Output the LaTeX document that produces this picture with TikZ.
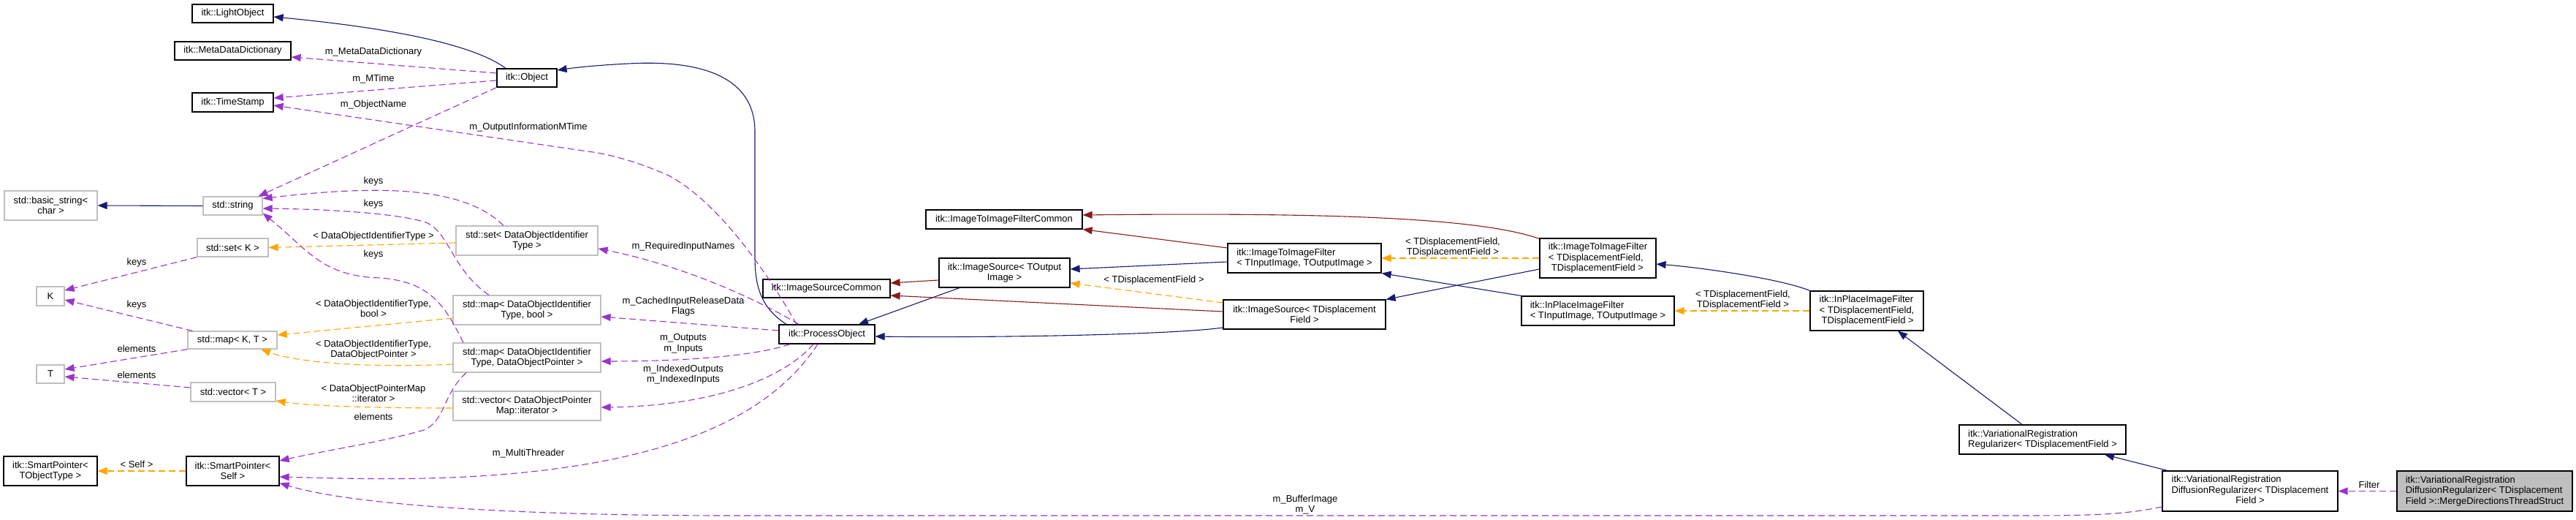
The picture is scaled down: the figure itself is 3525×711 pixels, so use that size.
\documentclass[tikz,border=0pt]{standalone}
\usepackage{fontspec}
\setmainfont{Liberation Sans}
\usetikzlibrary{arrows.meta}
\definecolor{inhblue}{HTML}{191970}
\definecolor{protred}{HTML}{8B1A1A}
\definecolor{tmplorange}{HTML}{FFA500}
\definecolor{useviolet}{HTML}{9A32CD}
\definecolor{grey75}{HTML}{BFBFBF}
\tikzset{
  cls/.style={draw=black, line width=1.2pt, fill=white, text=black,
    font=\fontsize{13}{14.5}\selectfont, align=center, inner sep=0pt},
  clsl/.style={cls, align=left},
  ext/.style={cls, draw=grey75},
  cur/.style={cls, fill=grey75, align=left},
  inh/.style={-{Triangle[length=13pt, width=10pt]}, line width=1.1pt, color=inhblue},
  prot/.style={inh, color=protred},
  tmpl/.style={inh, color=tmplorange, dash pattern=on 9pt off 5pt},
  usage/.style={inh, color=useviolet, dash pattern=on 9pt off 5pt},
  lbl/.style={font=\fontsize{13}{14.5}\selectfont, align=center, inner sep=0pt},
}

\begin{document}
\begin{tikzpicture}[x=1pt, y=1pt]
  \fill[white] (0,0) rectangle (3525,-711);
  \useasboundingbox (0,0) rectangle (3525,-711);

  % left columns
  \node[cls, minimum width=111pt, minimum height=25pt] (light) at (318.5,-18.5) {itk::LightObject};
  \node[cls, minimum width=159pt, minimum height=25pt] (mdd) at (318.5,-69.5) {itk::MetaDataDictionary};
  \node[cls, minimum width=111pt, minimum height=26pt] (tstamp) at (318.5,-140) {itk::TimeStamp};
  \node[cls, minimum width=82pt, minimum height=25pt] (obj) at (721,-106.5) {itk::Object};
  \node[ext, minimum width=127pt, minimum height=40pt] (bstr) at (69.5,-281) {std::basic\_string<\\char >};
  \node[ext, minimum width=81pt, minimum height=25pt] (str) at (318.5,-281.5) {std::string};
  \node[ext, minimum width=97pt, minimum height=25pt] (setk) at (318.5,-338.5) {std::set< K >};
  \node[ext, minimum width=194pt, minimum height=40pt] (setid) at (721,-329) {std::set< DataObjectIdentifier\\Type >};
  \node[ext, minimum width=38pt, minimum height=26pt] (kk) at (69,-405) {K};
  \node[ext, minimum width=122pt, minimum height=24pt] (mapkt) at (318,-465) {std::map< K, T >};
  \node[ext, minimum width=202pt, minimum height=40pt] (mapbool) at (721,-424) {std::map< DataObjectIdentifier\\Type, bool >};
  \node[ext, minimum width=202pt, minimum height=40pt] (mapptr) at (721,-489) {std::map< DataObjectIdentifier\\Type, DataObjectPointer >};
  \node[ext, minimum width=38pt, minimum height=25pt] (tt) at (69,-511.5) {T};
  \node[ext, minimum width=116pt, minimum height=26pt] (vect) at (319,-536) {std::vector< T >};
  \node[ext, minimum width=202pt, minimum height=40pt] (vecit) at (721,-555) {std::vector< DataObjectPointer\\Map::iterator >};
  \node[cls, minimum width=128pt, minimum height=40pt] (sptr) at (69,-644) {itk::SmartPointer<\\TObjectType >};
  \node[cls, minimum width=127pt, minimum height=40pt] (spself) at (318.5,-644) {itk::SmartPointer<\\Self >};

  % filter chain
  \node[cls, minimum width=131pt, minimum height=26pt] (proc) at (1131.5,-457) {itk::ProcessObject};
  \node[cls, minimum width=174pt, minimum height=25pt] (iscom) at (1131,-394.5) {itk::ImageSourceCommon};
  \node[cls, minimum width=179pt, minimum height=40pt] (isout) at (1374.5,-373) {itk::ImageSource< TOutput\\Image >};
  \node[cls, minimum width=214pt, minimum height=26pt] (itifcom) at (1374,-300) {itk::ImageToImageFilterCommon};
  \node[clsl, minimum width=210pt, minimum height=40pt] (itifio) at (1785,-353) {itk::ImageToImageFilter\\< TInputImage, TOutputImage >};
  \node[cls, minimum width=222pt, minimum height=40pt] (isdisp) at (1785,-430) {itk::ImageSource< TDisplacement\\Field >};
  \node[clsl, minimum width=159pt, minimum height=54pt] (itifdf) at (2186.5,-353) {itk::ImageToImageFilter\\< TDisplacementField,\\\hspace*{4pt}TDisplacementField >};
  \node[clsl, minimum width=209pt, minimum height=40pt] (ipio) at (2186.5,-425) {itk::InPlaceImageFilter\\< TInputImage, TOutputImage >};
  \node[clsl, minimum width=155pt, minimum height=54pt] (ipdf) at (2554.5,-425) {itk::InPlaceImageFilter\\< TDisplacementField,\\\hspace*{3pt}TDisplacementField >};
  \node[clsl, minimum width=228pt, minimum height=40pt] (vreg) at (2795,-601) {itk::VariationalRegistration\\Regularizer< TDisplacementField >};
  \node[cls, minimum width=240pt, minimum height=55pt] (diff) at (3079,-671.5) {\begin{tabular}{@{}l@{}}itk::VariationalRegistration\\DiffusionRegularizer< TDisplacement\\\multicolumn{1}{@{}c@{}}{Field >}\end{tabular}};
  \node[cur, minimum width=240pt, minimum height=55pt] (merge) at (3400,-671.5) {itk::VariationalRegistration\\DiffusionRegularizer< TDisplacement\\Field >::MergeDirectionsThreadStruct};

  % inheritance
  \draw[inh] ([xshift=-29pt]obj.north) .. controls (640,-55) and (500,-35) .. ([yshift=-4.5pt]light.east);
  \draw[inh] ([xshift=-55.5pt]proc.north) .. controls (1040,-420) and (1033,-390) .. (1033,-350) -- (1033,-180)
    .. controls (1033,-100) and (950,-82) .. (860,-87) .. controls (820,-89) and (790,-92) .. ([yshift=10.5pt]obj.east);
  \draw[inh] ([xshift=-61.5pt]isout.south) -- ([xshift=43.5pt]proc.north);
  \draw[inh] ([yshift=-18pt]isdisp.west) .. controls (1600,-458) and (1350,-462) .. ([yshift=-3pt]proc.east);
  \draw[inh] ([yshift=-5pt]itifio.west) -- ([yshift=5pt]isout.east);
  \draw[inh] ([yshift=-15pt]itifdf.west) -- (isdisp.north east);
  \draw[inh] (ipio.north west) -- (itifio.south east);
  \draw[inh] (ipdf.north west) .. controls (2440,-382) and (2330,-366) .. ([yshift=-8pt]itifdf.east);
  \draw[inh] ([xshift=-28pt]vreg.north) -- ([xshift=42.5pt]ipdf.south);
  \draw[inh] ([xshift=-113pt]diff.north) -- ([xshift=85pt]vreg.south);
  \draw[inh] (str.west) -- (bstr.east);

  % protected inheritance
  \draw[prot] ([yshift=-10pt]isout.west) -- ([yshift=7.5pt]iscom.east);
  \draw[prot] ([yshift=4pt]isdisp.west) -- ([yshift=-9.5pt]iscom.east);
  \draw[prot] ([yshift=14pt]itifio.west) -- (itifcom.south east);
  \draw[prot] ([yshift=-1pt]itifdf.north west) .. controls (2030,-300) and (1850,-290) .. ([yshift=6pt]itifcom.east);

  % template instances
  \draw[tmpl] ([yshift=16pt]isdisp.west) -- ([yshift=-14pt]isout.east);
  \draw[tmpl] (itifdf.west) -- (itifio.east);
  \draw[tmpl] (ipdf.west) -- (ipio.east);
  \draw[tmpl] ([yshift=-3pt]setid.west) -- (setk.east);
  \draw[tmpl] ([yshift=-11pt]mapbool.west) -- ([yshift=7pt]mapkt.east);
  \draw[tmpl] ([yshift=-9pt]mapptr.west) .. controls (540,-502) and (420,-500) .. ([xshift=39pt]mapkt.south);
  \draw[tmpl] ([yshift=-3pt]vecit.west) .. controls (540,-558) and (430,-556) .. ([yshift=-12pt]vect.east);
  \draw[tmpl] (spself.west) -- (sptr.east);

  % members
  \draw[usage] ([yshift=6.5pt]obj.west) -- ([yshift=-8.5pt]mdd.east);
  \draw[usage] ([yshift=-3.5pt]obj.west) -- ([yshift=6pt]tstamp.east);
  \draw[usage] (obj.south west) -- ([xshift=-6pt]str.north east);
  \draw[usage] ([xshift=-41.5pt]proc.north) .. controls (1060,-390) and (990,-280) .. (915,-240)
    .. controls (870,-220) and (830,-210) .. (804,-207) -- ([yshift=-4pt]tstamp.east);
  \draw[usage] ([xshift=-32pt]setid.north) .. controls (640,-260) and (540,-250) .. ([yshift=10pt]str.east);
  \draw[usage] ([xshift=-52pt]mapbool.north) .. controls (620,-370) and (615,-320) .. (585,-305)
    .. controls (550,-292) and (450,-286) .. ([yshift=-3.5pt]str.east);
  \draw[usage] ([xshift=-87pt]mapptr.north) .. controls (610,-420) and (590,-385) .. (520,-380)
    .. controls (440,-378) and (420,-340) .. ([yshift=-10pt]str.east);
  \draw[usage] (setk.south west) -- ([yshift=8pt]kk.east);
  \draw[usage] ([xshift=7pt]mapkt.north west) -- ([yshift=-5pt]kk.east);
  \draw[usage] (mapkt.south west) -- ([yshift=6.5pt]tt.east);
  \draw[usage] ([yshift=6pt]vect.west) -- ([yshift=-3.5pt]tt.east);
  \draw[usage] ([xshift=-83pt]mapptr.south) .. controls (605,-540) and (610,-575) .. (580,-588)
    .. controls (520,-605) and (450,-615) .. ([yshift=14pt]spself.east);
  \draw[usage] ([xshift=-12.5pt]proc.south) .. controls (1060,-560) and (950,-610) .. (800,-635)
    .. controls (650,-660) and (500,-655) .. ([yshift=-8pt]spself.east);
  \draw[usage] ([xshift=-38.5pt]proc.north) .. controls (1020,-400) and (920,-360) .. ([yshift=-11pt]setid.east);
  \draw[usage] ([yshift=5pt]proc.west) -- ([yshift=-9pt]mapbool.east);
  \draw[usage] ([xshift=-50.5pt]proc.south) .. controls (1040,-485) and (950,-494) .. ([yshift=-5pt]mapptr.east);
  \draw[usage] ([xshift=-18.5pt]proc.south) .. controls (1070,-520) and (970,-555) .. ([yshift=-2pt]vecit.east);
  \draw[usage] ([yshift=-21.5pt]diff.west) .. controls (2900,-705) and (2850,-705) .. (2750,-705) -- (1000,-705)
    .. controls (700,-705) and (480,-690) .. ([yshift=4pt]spself.south east);
  \draw[usage] (merge.west) -- (diff.east);

  % edge labels
  \node[lbl] (lmdd) at (511,-71) {m\_MetaDataDictionary};
  \node[lbl] (lmtime) at (511,-108) {m\_MTime};
  \node[lbl] (lobjname) at (511,-143) {m\_ObjectName};
  \node[lbl] (loutmtime) at (723,-174) {m\_OutputInformationMTime};
  \node[lbl] (lkeysa) at (511,-248) {keys};
  \node[lbl] (lkeysb) at (511,-279) {keys};
  \node[lbl] (lsetid) at (511,-323) {< DataObjectIdentifierType >};
  \node[lbl] (lkeysc) at (511,-348) {keys};
  \node[lbl] (lkeysd) at (187,-359) {keys};
  \node[lbl] (lkeyse) at (187,-417) {keys};
  \node[lbl] (lmapbool) at (511,-422) {< DataObjectIdentifierType,\\bool >};
  \node[lbl] (lmapptr) at (511,-478) {< DataObjectIdentifierType,\\DataObjectPointer >};
  \node[lbl] (lelema) at (187,-477) {elements};
  \node[lbl] (lelemb) at (187,-513) {elements};
  \node[lbl] (lvecit) at (511,-538) {< DataObjectPointerMap\\::iterator >};
  \node[lbl] (lelemc) at (511,-570) {elements};
  \node[lbl] (lself) at (187,-635) {< Self >};
  \node[lbl] (lmt) at (723,-620) {m\_MultiThreader};
  \node[lbl] (lreq) at (935,-337) {m\_RequiredInputNames};
  \node[lbl] (lcached) at (935,-419) {m\_CachedInputReleaseData\\Flags};
  \node[lbl] (lio) at (935,-470) {m\_Outputs\\m\_Inputs};
  \node[lbl] (lidx) at (935,-512) {m\_IndexedOutputs\\m\_IndexedInputs};
  \node[lbl] (ltdf) at (1579,-383) {< TDisplacementField >};
  \node[lbl] (ltdfb) at (1988,-338) {< TDisplacementField,\\TDisplacementField >};
  \node[lbl] (ltdfc) at (2385,-410) {< TDisplacementField,\\TDisplacementField >};
  \node[lbl] (lbuf) at (1786,-690) {m\_BufferImage\\m\_V};
  \node[lbl] (lfilter) at (3242,-663) {Filter};
\end{tikzpicture}
\end{document}
